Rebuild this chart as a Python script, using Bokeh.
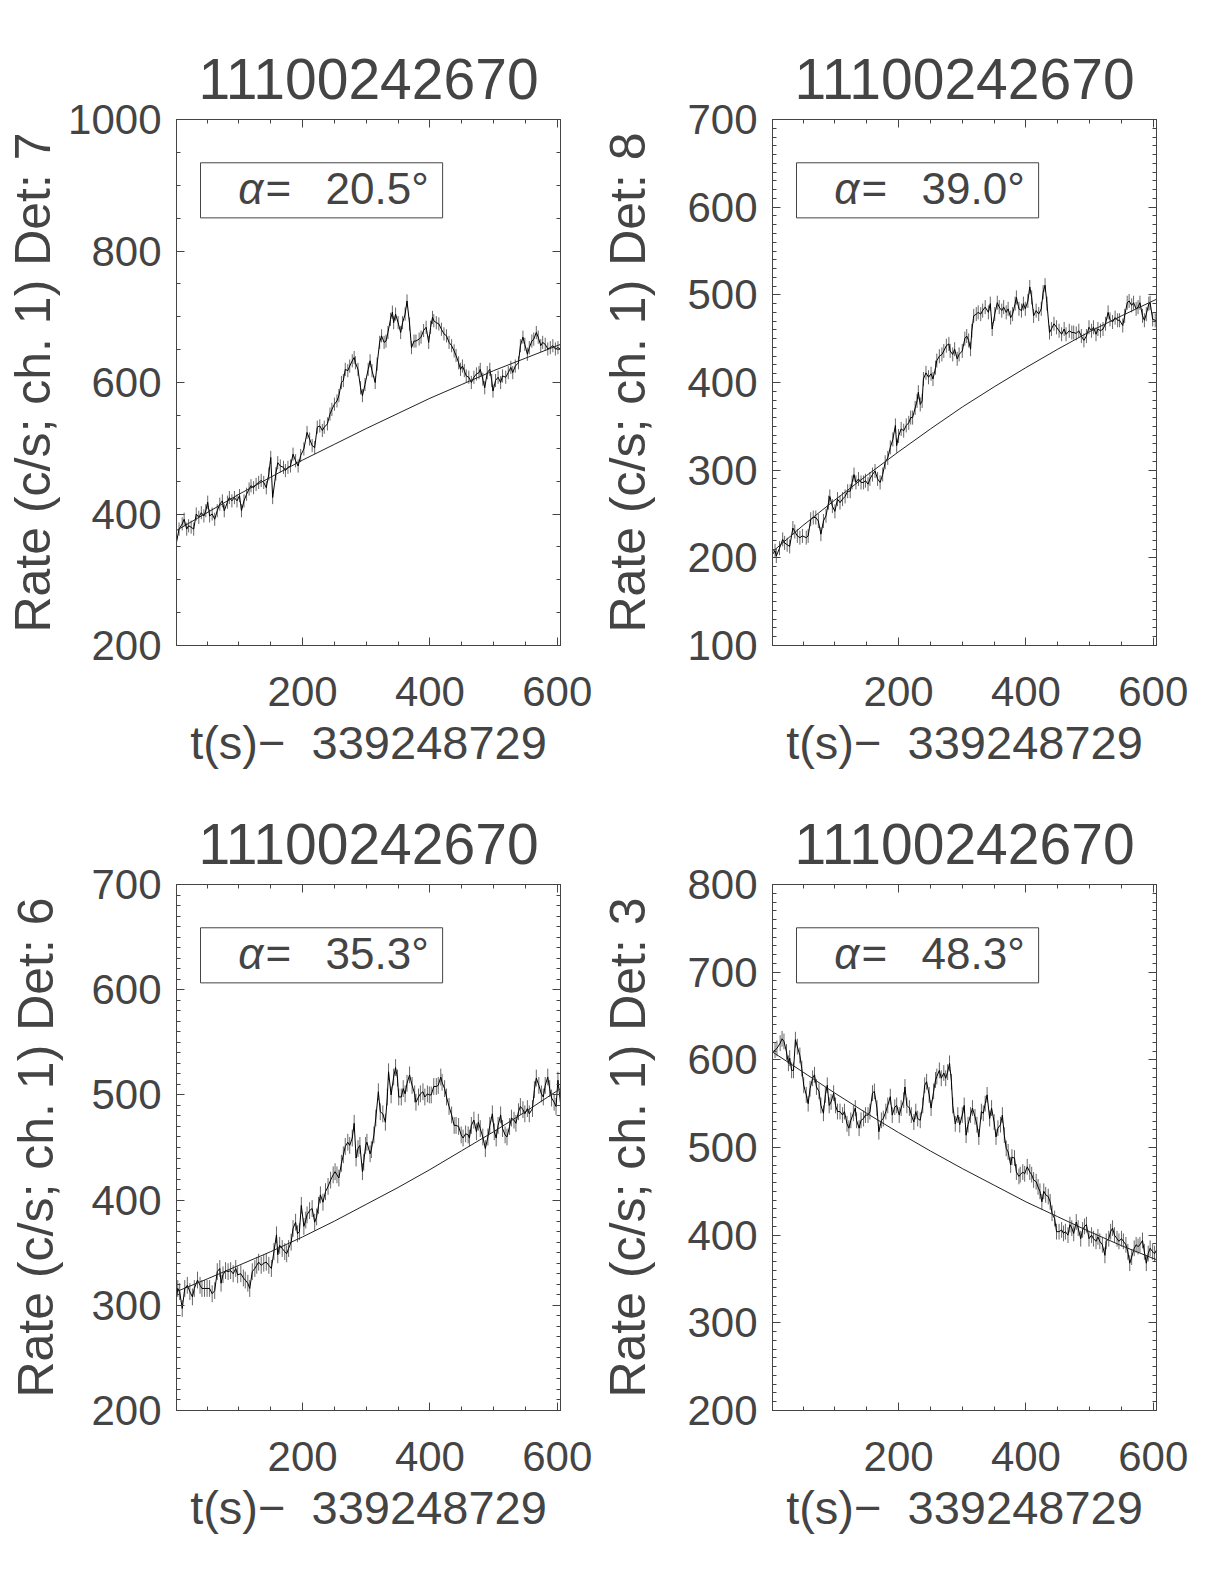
import numpy as np
from bokeh.plotting import figure
from bokeh.layouts import gridplot
from bokeh.models import (Range1d, FixedTicker, LinearAxis, BoxAnnotation, Label, Title)
from bokeh.embed import file_html
from bokeh.resources import INLINE

# ---------------- data ----------------
OBS_ID = "11100242670"
X_LABEL = "t(s)\u2212\u00a0\u00a0339248729"
DETECTORS = ["7", "8", "6", "3"]
ALPHAS = ["20.5", "39.0", "35.3", "48.3"]
Y_RANGES = [(200, 1000), (100, 700), (200, 700), (200, 800)]
Y_MAJOR = [[200, 400, 600, 800, 1000], [100, 200, 300, 400, 500, 600, 700],
           [200, 300, 400, 500, 600, 700], [200, 300, 400, 500, 600, 700, 800]]
Y_MINOR_STEP = [50, 10, 10, 10]
X_RANGE = (2, 605)
X_MAJOR = [200, 400, 600]
ERRS = [10, 8, 8, 9]

# Det 7 (top left)
TL_T = [2, 6, 11, 14, 18, 21, 25, 29, 33, 37, 41, 45, 48, 51, 54, 58, 62, 66, 70, 74, 77, 82, 85, 89, 93, 97,
        101, 104, 108, 112, 116, 119, 123, 127, 131, 135, 139, 143, 147, 150, 153, 158, 161, 165, 170, 173, 177,
        181, 185, 189, 193, 197, 202, 207, 211, 215, 219, 223, 227, 231, 234, 239, 243, 246, 250, 254, 257, 261,
        264, 267, 271, 274, 278, 281, 283, 287, 291, 294, 298,
        303, 306, 309, 314, 317, 321, 324, 328, 331, 334, 338, 341, 343, 346, 350, 354, 357, 361, 364, 368, 371,
        375, 378, 383, 386, 390, 394, 398, 401, 404, 406, 410, 414, 418, 422, 426, 430, 434, 438, 441, 445, 448,
        451, 454, 457, 461, 465, 469, 473, 477, 479, 483, 486, 490, 494, 497, 499, 503, 507, 511, 514, 519, 523,
        527, 530, 534, 539, 542, 546, 549, 553, 556, 560, 563, 567, 570, 574, 577, 581, 585, 589, 593, 597, 601, 605]
TL_RATE = [357, 377, 385, 392, 377, 382, 380, 377, 400, 395, 402, 397, 405, 418, 397, 400, 392, 405, 415, 420, 405,
           418, 425, 420, 425, 420, 428, 405, 420, 430, 438, 443, 440, 445, 448, 451, 448, 440, 461, 486, 425, 461,
           478, 473, 471, 466, 471, 473, 491, 481, 473, 489, 499, 524, 514, 504, 501, 532, 534, 527, 532, 537, 552,
           559, 567, 572, 580, 600, 603, 620, 618, 625, 633, 638, 630, 620, 592, 580, 597,
           620, 633, 618, 600, 628, 661, 671, 661, 663, 676, 696, 707, 691, 704, 691, 676, 691, 704, 724, 689, 653,
           663, 663, 666, 669, 679, 684, 661, 684, 699, 694, 691, 689, 681, 674, 671, 661, 656, 648, 641, 630, 620,
           625, 618, 610, 608, 600, 608, 613, 615, 620, 605, 592, 615, 620, 603, 587, 603, 608, 600, 610, 608, 615,
           623, 615, 625, 630, 656, 669, 658, 643, 653, 663, 666, 676, 669, 656, 661, 658, 651, 653, 656, 651, 653, 651]

# Det 8 (top right)
TR_T = [2, 6, 8, 13, 18, 21, 25, 29, 34, 37, 41, 45, 49, 55, 58, 62, 66, 70, 74, 78, 82, 86, 90, 92, 96, 100, 104,
        108, 112, 116, 120, 124, 127, 130, 133, 137, 141, 145, 148, 152, 155, 159, 163, 167, 171, 175, 179, 183, 187,
        191, 195, 197, 200, 204, 208, 212, 216, 219, 222, 226, 229, 231, 234, 237, 239, 243, 247, 251, 254, 258, 260,
        264, 268, 271, 275, 279, 281, 285, 288, 292, 295, 300,
        304, 307, 310, 313, 315, 318, 322, 325, 329, 332, 336, 341, 344, 347, 351, 355, 358, 362, 365, 369, 372, 376,
        379, 383, 385, 389, 393, 396, 399, 403, 406, 409, 412, 416, 420, 424, 427, 430, 433, 437, 440, 444, 448, 452,
        456, 460, 463, 468, 472, 475, 479, 483, 487, 491, 495, 499, 503, 506, 510, 513, 517, 521, 525, 529, 532, 536,
        540, 544, 547, 552, 555, 559, 562, 566, 569, 573, 576, 579, 583, 586, 589, 593, 595, 599, 603, 605]
TR_RATE = [204, 208, 202, 211, 221, 217, 215, 213, 234, 230, 225, 223, 225, 223, 225, 244, 246, 246, 242, 227, 242,
           248, 263, 270, 259, 253, 267, 263, 267, 270, 276, 276, 286, 295, 286, 290, 286, 286, 288, 284, 290, 295,
           299, 290, 286, 295, 309, 314, 326, 335, 351, 328, 339, 347, 345, 351, 354, 360, 360, 371, 379, 389, 375,
           379, 404, 411, 406, 410, 404, 417, 425, 430, 432, 436, 442, 444, 436, 432, 438, 427, 432, 436,
           450, 453, 448, 438, 459, 476, 478, 480, 478, 482, 486, 480, 490, 461, 478, 491, 486, 482, 486, 480, 484,
           474, 478, 490, 497, 484, 482, 490, 484, 493, 509, 497, 476, 482, 478, 484, 503, 511, 490, 457, 461, 467,
           463, 459, 455, 461, 455, 459, 457, 457, 456, 459, 453, 448, 453, 463, 459, 463, 455, 461, 459, 461, 467,
           480, 472, 469, 474, 471, 471, 465, 476, 491, 493, 488, 491, 484, 486, 491, 476, 471, 478, 490, 491, 472,
           471, 469]

# Det 6 (bottom left)
BL_T = [2, 4, 7, 11, 15, 19, 23, 27, 30, 35, 39, 42, 46, 50, 54, 58, 62, 66, 70, 72, 75, 79, 83, 87, 91, 95, 98, 103,
        107, 110, 114, 117, 121, 125, 128, 131, 135, 139, 143, 147, 151, 155, 159, 161, 164, 168, 172, 175, 178, 182,
        185, 189, 192, 195, 198, 202, 205, 207, 211, 215, 219, 222, 225, 228, 232, 236, 240, 244, 248, 251, 254, 257,
        261, 264, 267, 271, 274, 278, 281, 284, 287, 290, 294, 296, 299, 301, 306,
        308, 312, 315, 319, 322, 326, 330, 333, 335, 339, 343, 346, 349, 351, 355, 358, 361, 364, 368, 372, 376, 378,
        382, 385, 389, 392, 396, 399, 402, 406, 410, 413, 417, 419, 423, 426, 430, 434, 438, 441, 445, 449, 452, 456,
        460, 462, 465, 469, 473, 476, 479, 483, 487, 491, 494, 498, 501, 504, 507, 511, 514, 518, 521, 525, 528, 532,
        535, 539, 542, 546, 549, 553, 556, 561, 564, 567, 571, 575, 578, 581, 585, 588, 591, 595, 598, 601, 605]
BL_RATE = [308, 316, 313, 297, 316, 319, 313, 308, 316, 324, 319, 316, 316, 316, 316, 311, 314, 332, 335, 321, 329,
           333, 332, 333, 330, 335, 329, 330, 326, 324, 321, 316, 332, 335, 338, 341, 338, 340, 341, 338, 335, 351,
           367, 348, 357, 354, 351, 349, 354, 360, 373, 379, 368, 370, 395, 375, 381, 386, 390, 392, 379, 384, 395,
           405, 398, 408, 413, 419, 424, 427, 424, 421, 435, 443, 451, 455, 452, 459, 473, 440, 449, 452, 427, 436,
           452, 455, 444,
           448, 462, 478, 503, 484, 482, 474, 498, 522, 500, 517, 526, 516, 498, 498, 506, 501, 511, 519, 509, 501,
           493, 498, 501, 503, 498, 501, 500, 500, 508, 508, 509, 517, 512, 506, 498, 489, 481, 471, 471, 470, 462,
           459, 463, 462, 459, 471, 476, 465, 474, 468, 460, 449, 460, 471, 482, 465, 459, 471, 481, 468, 462, 460,
           470, 478, 476, 473, 484, 489, 486, 482, 487, 482, 487, 505, 516, 509, 501, 498, 509, 517, 506, 497, 493,
           489, 514, 492]

# Det 3 (bottom right)
BR_T = [2, 6, 9, 14, 17, 20, 24, 27, 29, 32, 35, 38, 41, 45, 48, 51, 55, 58, 61, 65, 68, 71, 75, 78, 82, 85, 88, 91,
        94, 98, 101, 104, 108, 112, 115, 119, 122, 125, 129, 132, 134, 138, 141, 145, 148, 152, 155, 159, 162, 166,
        169, 173, 176, 180, 183, 187, 190, 194, 197, 201, 204, 208, 210, 213, 217, 220, 224, 227, 230, 234, 238, 241,
        244, 248, 251, 255, 258, 260, 264, 267, 271, 274, 277, 280, 283, 285, 289, 293, 296, 300, 303, 306,
        309, 313, 316, 320, 323, 326, 330, 333, 336, 339, 343, 346, 350, 353, 356, 360, 363, 366, 369, 372, 376, 378,
        382, 385, 389, 391, 395, 398, 402, 406, 409, 412, 416, 419, 422, 425, 428, 431, 435, 438, 441, 445, 448, 452,
        456, 459, 462, 466, 469, 472, 475, 479, 482, 486, 489, 492, 495, 499, 503, 506, 510, 513, 516, 520, 524, 526,
        530, 533, 536, 539, 543, 546, 550, 553, 557, 560, 563, 566, 570, 573, 576, 579, 583, 586, 589, 592, 595, 599,
        602, 605]
BR_RATE = [609, 611, 613, 619, 624, 621, 609, 596, 602, 588, 588, 623, 615, 605, 590, 571, 560, 550, 567, 579, 583,
           569, 564, 548, 539, 560, 571, 548, 552, 562, 548, 541, 541, 537, 541, 527, 522, 531, 539, 545, 531, 522,
           531, 533, 537, 537, 541, 562, 564, 545, 518, 531, 533, 541, 548, 558, 537, 546, 548, 537, 545, 554, 569,
           548, 545, 537, 529, 541, 533, 531, 548, 571, 575, 560, 545, 564, 577, 581, 588, 579, 585, 579, 586, 596,
           575, 548, 527, 537, 526, 537, 548, 514,
           526, 537, 545, 535, 526, 512, 541, 539, 550, 560, 533, 545, 529, 512, 522, 526, 537, 514, 499, 495, 480,
           489, 488, 472, 467, 469, 472, 470, 478, 472, 469, 463, 461, 455, 450, 438, 450, 446, 444, 438, 425, 419,
           404, 404, 406, 402, 404, 400, 412, 408, 402, 415, 408, 396, 406, 410, 412, 396, 400, 396, 393, 398, 393,
           389, 377, 393, 396, 404, 408, 400, 396, 393, 396, 393, 389, 381, 368, 375, 385, 389, 387, 389, 394, 381,
           368, 379, 385, 381, 379, 383]

# fitted background curves, read at these times
FIT_T = [2, 50, 100, 150, 200, 250, 300, 350, 400, 450, 500, 550, 605]
TL_FIT = [375, 402, 430, 456, 482, 506, 530, 553, 576, 597, 618, 637, 658]
TR_FIT = [207, 237, 266, 294, 321, 347, 372, 395, 417, 438, 458, 476, 495]
BL_FIT = [313, 325, 338, 351, 365, 380, 396, 412, 429, 447, 465, 484, 506]
BR_FIT = [609, 586, 562, 539, 517, 496, 476, 457, 438, 421, 404, 388, 372]

PANELS = [(TL_T, TL_RATE, TL_FIT), (TR_T, TR_RATE, TR_FIT), (BL_T, BL_RATE, BL_FIT), (BR_T, BR_RATE, BR_FIT)]

# ---------------- styling ----------------
FONT = "Liberation Sans"
TXT = "#444444"
FRAME_W, FRAME_H = 384, 526
BORDERS = [  # left, right, top, bottom
    (176, 37, 119, 130),
    (175, 60, 119, 130),
    (176, 37, 109, 156),
    (175, 60, 109, 156),
]
YLABEL_STANDOFF = [4, 28, 24, 28]


def style_axis(ax, ticks, minor, show_labels):
    ax.ticker = FixedTicker(ticks=ticks, minor_ticks=minor)
    ax.axis_line_color = "#444444"
    ax.major_tick_line_color = "#444444"
    ax.minor_tick_line_color = "#444444"
    ax.major_tick_in = 8
    ax.major_tick_out = 0
    ax.minor_tick_in = 4
    ax.minor_tick_out = 0
    if show_labels:
        ax.major_label_text_font = FONT
        ax.major_label_text_color = TXT
    else:
        ax.major_label_overrides = {t: "" for t in ticks}
        ax.major_label_text_color = None
        ax.major_label_standoff = 0


figs = []
for i, (tt, rr, ff) in enumerate(PANELS):
    lb, rb, tb, bb = BORDERS[i]
    y0, y1 = Y_RANGES[i]
    p = figure(frame_width=FRAME_W, frame_height=FRAME_H, output_backend="svg", toolbar_location=None,
               x_range=Range1d(*X_RANGE), y_range=Range1d(y0, y1),
               min_border_left=lb, min_border_right=rb, min_border_top=tb, min_border_bottom=bb)
    p.background_fill_color = "white"
    p.border_fill_color = "white"
    p.outline_line_color = "#444444"
    p.grid.visible = False
    p.title = Title(text=OBS_ID, align="center", text_font=FONT, text_font_size="57px",
                    text_font_style="normal", text_color=TXT, standoff=41)

    x_minor = list(range(50, 601, 50))
    y_minor = list(range(y0, y1 + 1, Y_MINOR_STEP[i]))

    xa = p.xaxis[0]
    style_axis(xa, X_MAJOR, x_minor, True)
    xa.major_label_text_font_size = "42px"
    xa.major_label_standoff = 31
    xa.axis_label = X_LABEL
    xa.axis_label_text_font = FONT
    xa.axis_label_text_font_size = "47px"
    xa.axis_label_text_font_style = "normal"
    xa.axis_label_text_color = TXT
    xa.axis_label_standoff = 7

    ya = p.yaxis[0]
    style_axis(ya, Y_MAJOR[i], y_minor, True)
    ya.major_label_text_font_size = "42px"
    ya.major_label_standoff = 15
    ya.axis_label = "Rate (c/s; ch. 1) Det: " + DETECTORS[i]
    ya.axis_label_text_font = FONT
    ya.axis_label_text_font_size = "50px"
    ya.axis_label_text_font_style = "normal"
    ya.axis_label_text_color = TXT
    ya.axis_label_standoff = YLABEL_STANDOFF[i]

    top = LinearAxis()
    style_axis(top, X_MAJOR, x_minor, False)
    p.add_layout(top, "above")
    right = LinearAxis()
    style_axis(right, Y_MAJOR[i], y_minor, False)
    p.add_layout(right, "right")

    t = np.array(tt, dtype=float)
    r = np.array(rr, dtype=float)
    e = ERRS[i]
    p.segment(x0=t, y0=r - e, x1=t, y1=r + e, line_color="#666666", line_width=1)
    p.line(t, r, line_color="black", line_width=1)
    p.line(FIT_T, ff, line_color="#222222", line_width=1)

    # legend-like box with the angle
    xs, xe = X_RANGE
    span_x = xe - xs
    span_y = y1 - y0
    p.add_layout(BoxAnnotation(left=xs + 0.0625 * span_x, right=xs + 0.693 * span_x,
                               bottom=y0 + 0.813 * span_y, top=y0 + 0.9177 * span_y,
                               fill_color=None, fill_alpha=0, line_color="#444444", line_alpha=1.0,
                               line_width=1))
    ty = y0 + 0.868 * span_y
    p.add_layout(Label(x=xs + 0.161 * span_x, y=ty, text="\u03b1",
                       text_font=FONT, text_font_size="44px", text_font_style="italic",
                       text_color=TXT, text_align="left", text_baseline="middle"))
    p.add_layout(Label(x=xs + 0.232 * span_x, y=ty, text="=",
                       text_font=FONT, text_font_size="44px", text_color=TXT,
                       text_align="left", text_baseline="middle"))
    p.add_layout(Label(x=xs + 0.388 * span_x, y=ty, text=ALPHAS[i] + "\u00b0",
                       text_font=FONT, text_font_size="44px", text_color=TXT,
                       text_align="left", text_baseline="middle"))
    figs.append(p)

grid = gridplot([[figs[0], figs[1]], [figs[2], figs[3]]], toolbar_location=None)

with open("out.html", "w") as f:
    f.write(file_html(grid, INLINE))
